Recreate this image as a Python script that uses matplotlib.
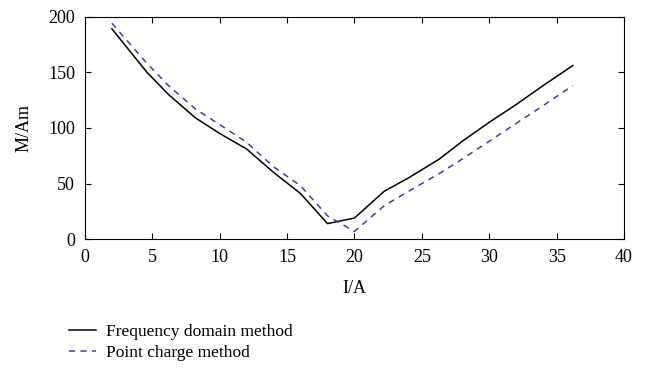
import matplotlib.pyplot as plt

plt.rcParams['font.family'] = ['Liberation Serif', 'DejaVu Serif']

current = [2, 4.6, 6.2, 8.2, 10, 12, 14, 16, 18, 20, 22.2, 24, 26.3, 28, 30, 32, 34, 36.2]
freq_domain = [189, 150, 130, 109, 95, 81, 60, 41, 14, 19, 43, 55, 72, 88, 105, 121, 138, 156]
point_charge = [194, 158, 138, 117, 103, 87, 65, 48, 21, 7, 30, 43, 59, 72, 88, 104, 120, 138]

fig = plt.figure(figsize=(6.48, 3.68), dpi=100)
ax = fig.add_axes([0.131, 0.35, 0.832, 0.605])

ax.plot(current, freq_domain, color='black', lw=1.1, label='Frequency domain method')
ax.plot(current, point_charge, color='#3f3fa0', lw=1.1, ls=(0, (4, 3.5)), label='Point charge method')

ax.set_xlim(0, 40)
ax.set_ylim(0, 200)
ax.set_xticks(range(0, 41, 5))
ax.set_yticks(range(0, 201, 50))
ax.tick_params(direction='in', top=True, right=True, labelsize=13, length=4, width=0.8, pad=7)
ax.set_xlabel('I/A', fontsize=13, labelpad=10)
ax.set_ylabel('M/Am', fontsize=13, labelpad=11)

h, l = ax.get_legend_handles_labels()
fig.legend(h, l, loc='upper left', bbox_to_anchor=(0.095, 0.14), frameon=False,
           fontsize=12.5, handlelength=1.6, labelspacing=0.3, handletextpad=0.55, borderaxespad=0)

fig.savefig('out.png', dpi=100)
